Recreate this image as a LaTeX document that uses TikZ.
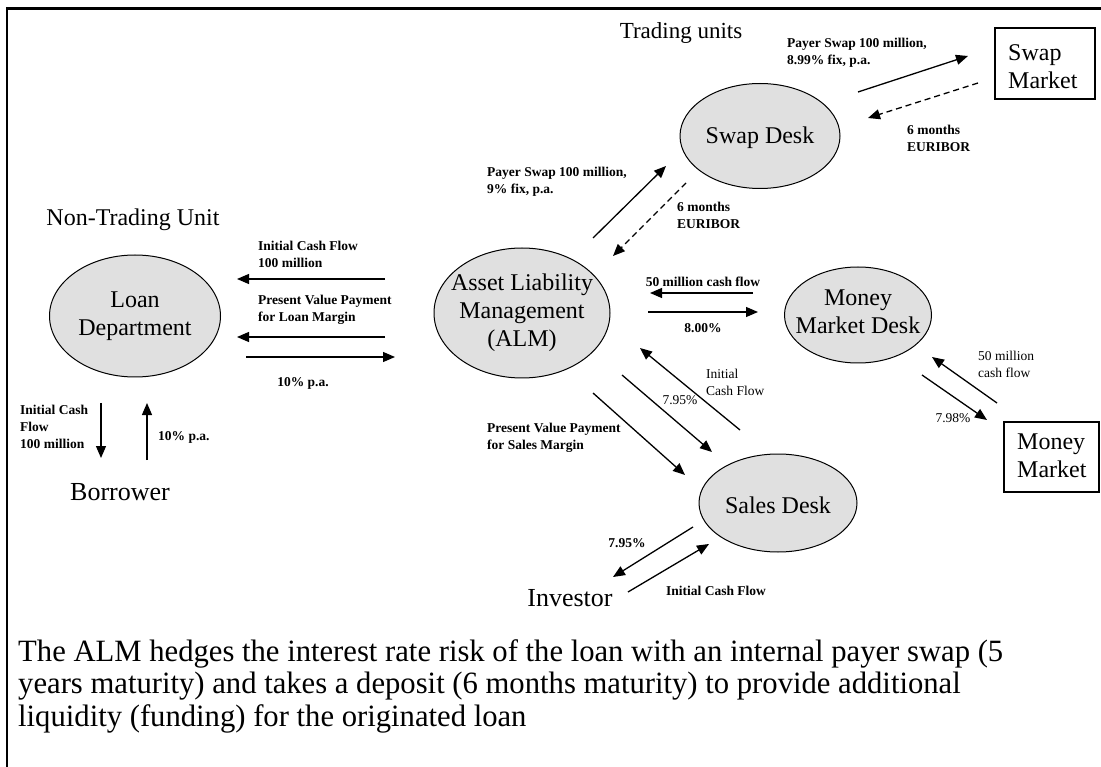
\documentclass[tikz,border=0pt]{standalone}
\usepackage{fontspec}
\usepackage{graphicx}
\setmainfont{Liberation Serif}
\usetikzlibrary{shapes.geometric,arrows.meta}
\definecolor{deskfill}{RGB}{224,224,224}
\newlength\notewidth
\begin{document}
\begin{tikzpicture}[x=1pt,y=-1pt,
  desk/.style={ellipse,draw=black,line width=1pt,fill=deskfill,inner sep=0pt},
  desktext/.style={align=center,font=\fontsize{24}{28}\selectfont,inner sep=0pt},
  big/.style={font=\fontsize{24}{28}\selectfont,inner sep=0pt},
  bigger/.style={font=\fontsize{26}{30}\selectfont,inner sep=0pt},
  lbl/.style={font=\fontsize{13.5}{17}\selectfont\bfseries,align=left,inner sep=0pt,anchor=west},
  lblr/.style={font=\fontsize{13.5}{17}\selectfont,align=left,inner sep=0pt,anchor=west},
  lblc/.style={font=\fontsize{13.5}{17}\selectfont\bfseries,inner sep=0pt},
  lblrc/.style={font=\fontsize{13.5}{17}\selectfont,inner sep=0pt},
  flow/.style={line width=1.3pt,-{Triangle[length=12pt,width=10pt]}},
  dflow/.style={flow,dash pattern=on 6pt off 4pt},
  mkt/.style={draw,line width=1.1pt,inner sep=0pt}
]
\useasboundingbox (0,0) rectangle (1101,767);
\fill[white] (0,0) rectangle (1101,767);
% frame
\draw[line width=3pt] (1101,9) -- (6,9);
\draw[line width=2pt] (7,8) -- (7,767);

% ellipses
\node[desk,minimum width=171pt,minimum height=122pt] (loan) at (135,316) {};
\node[desktext] (loantext) at (loan.center) {Loan\\Department};
\node[desk,minimum width=176pt,minimum height=130pt] (alm) at (522,313) {};
\node[desktext] (almtext) at (alm.center) {Asset Liability\\Management\\(ALM)};
\node[desk,minimum width=160pt,minimum height=105pt] (swap) at (760,136) {};
\node[desktext] (swaptext) at (760,138) {Swap Desk};
\node[desk,minimum width=147pt,minimum height=96pt] (mm) at (858,315) {};
\node[desktext] (mmtext) at (858,312) {Money\\Market Desk};
\node[desk,minimum width=158pt,minimum height=98pt] (sales) at (778,503) {};
\node[desktext] (salestext) at (778,505) {Sales Desk};

% market boxes
\node[mkt,minimum width=100pt,minimum height=71pt] (swapmkt) at (1045,63.5) {};
\node[big,align=left,anchor=west] (swapmkttext) at (1008,67) {Swap\\Market};
\node[mkt,minimum width=95pt,minimum height=70pt] (mmkt) at (1051.5,457) {};
\node[big,align=left,anchor=west] (mmkttext) at (1017,456) {Money\\Market};

% titles
\node[big] (nontrading) at (133,220) {Non-Trading Unit};
\node[font=\fontsize{23}{27}\selectfont,inner sep=0pt] (trading) at (681,33) {Trading units};
\node[bigger] (borrower) at (120,492) {Borrower};
\node[bigger] (investor) at (570,598) {Investor};

% labels
\node[lbl] (l1) at (258,254) {Initial Cash Flow\\100 million};
\node[lbl] (l2) at (258,310) {Present Value Payment\\for Loan Margin};
\node[lblc] (l3) at (303,383) {10\% p.a.};
\node[lbl] (l4) at (20,427) {Initial Cash\\Flow\\100 million};
\node[lbl] (l5) at (158,437) {10\% p.a.};
\node[lbl] (l6) at (487,182) {Payer Swap 100 million,\\9\% fix, p.a.};
\node[lbl] (l7) at (677,215) {6 months\\EURIBOR};
\node[lbl] (l8) at (787,53) {Payer Swap 100 million,\\8.99\% fix, p.a.};
\node[lbl] (l9) at (907,138) {6 months\\EURIBOR};
\node[lblc] (l10) at (703,282) {50 million cash flow};
\node[lblc] (l11) at (703,328) {8.00\%};
\node[lblr] (l12) at (978,364) {50 million\\cash flow};
\node[lblrc] (l13) at (953,418) {7.98\%};
\node[lblr] (l14) at (706,382) {Initial\\Cash Flow};
\node[lblrc] (l15) at (680,400) {7.95\%};
\node[lbl] (l16) at (487,438) {Present Value Payment\\for Sales Margin};
\node[lblc] (l17) at (627,543) {7.95\%};
\node[lblc] (l18) at (716,591) {Initial Cash Flow};

% arrow end points
\coordinate (a1s) at (858,92);   \coordinate (a1e) at (968,56);
\coordinate (a2s) at (978,83);   \coordinate (a2e) at (868,118);
\coordinate (a3s) at (593,238);  \coordinate (a3e) at (666,166);
\coordinate (a4s) at (686,183);  \coordinate (a4e) at (613,256);
\coordinate (a5s) at (385,279);  \coordinate (a5e) at (237,279);
\coordinate (a6s) at (385,337);  \coordinate (a6e) at (237,337);
\coordinate (a7s) at (246,357);  \coordinate (a7e) at (395,357);
\coordinate (a8s) at (101,403);  \coordinate (a8e) at (101,458);
\coordinate (a9s) at (147,460);  \coordinate (a9e) at (147,403);
\coordinate (a10s) at (753,293); \coordinate (a10e) at (650,293);
\coordinate (a11s) at (648,312); \coordinate (a11e) at (758,312);
\coordinate (a12s) at (997,403); \coordinate (a12e) at (932,357);
\coordinate (a13s) at (922,375); \coordinate (a13e) at (987,420);
\coordinate (a14s) at (740,430); \coordinate (a14e) at (640,348);
\coordinate (a15s) at (622,375); \coordinate (a15e) at (712,452);
\coordinate (a16s) at (593,393); \coordinate (a16e) at (685,475);
\coordinate (a17s) at (693,527); \coordinate (a17e) at (613,577);
\coordinate (a18s) at (628,592); \coordinate (a18e) at (709,544);

\draw[flow] (a1s) -- (a1e);
\draw[dflow] (a2s) -- (a2e);
\draw[flow] (a3s) -- (a3e);
\draw[dflow] (a4s) -- (a4e);
\draw[flow] (a5s) -- (a5e);
\draw[flow] (a6s) -- (a6e);
\draw[flow] (a7s) -- (a7e);
\draw[flow] (a8s) -- (a8e);
\draw[flow] (a9s) -- (a9e);
\draw[flow] (a10s) -- (a10e);
\draw[flow] (a11s) -- (a11e);
\draw[flow] (a12s) -- (a12e);
\draw[flow] (a13s) -- (a13e);
\draw[flow] (a14s) -- (a14e);
\draw[flow] (a15s) -- (a15e);
\draw[flow] (a16s) -- (a16e);
\draw[flow] (a17s) -- (a17e);
\draw[flow] (a18s) -- (a18e);

% bottom note
\node[anchor=base west,inner sep=0pt] (note) at (18,661) {\fontsize{31}{32.5}\selectfont\settowidth{\notewidth}{The ALM hedges the interest rate risk of the loan with an internal payer swap (5}\pgfmathsetmacro\sx{985/\notewidth}\scalebox{\sx}[1]{\begin{tabular}[t]{@{}l@{}}The ALM hedges the interest rate risk of the loan with an internal payer swap (5\\years maturity) and takes a deposit (6 months maturity) to provide additional\\liquidity (funding) for the originated loan\end{tabular}}};
\end{tikzpicture}
\end{document}
